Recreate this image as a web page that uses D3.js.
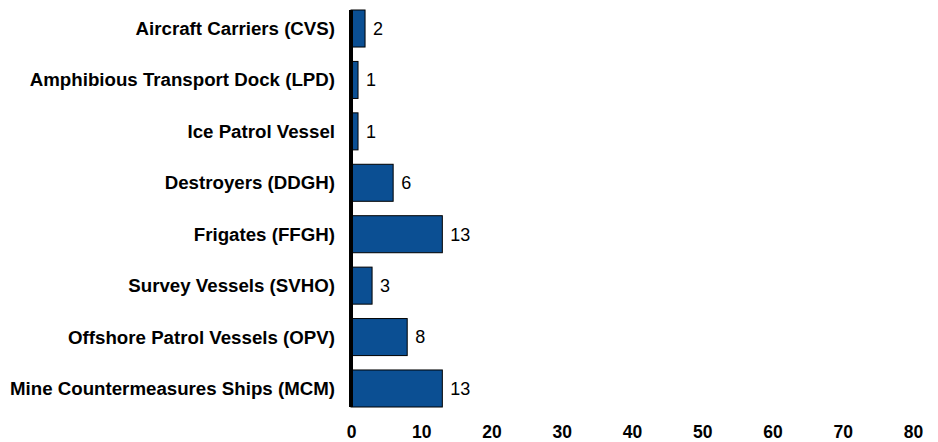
<!DOCTYPE html>
<html><head><meta charset="utf-8">
<script src="https://cdn.jsdelivr.net/npm/d3@7"></script>
<style>body{margin:0;background:#fff}svg{display:block}</style>
</head><body>
<svg id="c" width="938" height="442"></svg>
<script>
const categories = ["Aircraft Carriers (CVS)","Amphibious Transport Dock (LPD)","Ice Patrol Vessel","Destroyers (DDGH)","Frigates (FFGH)","Survey Vessels (SVHO)","Offshore Patrol Vessels (OPV)","Mine Countermeasures Ships (MCM)"];
const values = [2,1,1,6,13,3,8,13];
const xTicks = [0,10,20,30,40,50,60,70,80];

const svg = d3.select("#c");
const x = d3.scaleLinear().domain([0,80]).range([351,913]);
const y = d3.scaleBand().domain(categories).range([2.8,414.2]).paddingInner(0.28).paddingOuter(0.14);
const font = "Arial, 'Liberation Sans', sans-serif";

svg.selectAll("rect.bar").data(values).join("rect")
  .attr("x", x(0)).attr("y",(d,i)=>y(categories[i]))
  .attr("width", d=>x(d)-x(0)).attr("height", y.bandwidth())
  .attr("fill","#0b4f93").attr("stroke","#000").attr("stroke-width",1);

svg.selectAll("text.val").data(values).join("text")
  .attr("x", d=>x(d)+8).attr("y",(d,i)=>y(categories[i])+y.bandwidth()/2)
  .attr("dy","0.35em").attr("font-family",font).attr("font-size",18).attr("fill","#000")
  .text(d=>d);

svg.selectAll("text.cat").data(categories).join("text")
  .attr("x",335).attr("y",d=>y(d)+y.bandwidth()/2).attr("dy","0.35em")
  .attr("text-anchor","end").attr("font-family",font).attr("font-size",18.7).attr("font-weight","bold")
  .text(d=>d);

svg.append("line").attr("x1",x(0)).attr("x2",x(0))
  .attr("y1",y(categories[0])).attr("y2",y(categories[7])+y.bandwidth())
  .attr("stroke","#000").attr("stroke-width",4);

const xa = svg.append("g").attr("transform","translate(0,426)")
  .call(d3.axisBottom(x).tickValues(xTicks).tickSize(0).tickPadding(0));
xa.select(".domain").remove();
xa.selectAll("text").attr("dy",null).attr("y",12).attr("font-family",font).attr("font-size",17.5).attr("font-weight","bold").attr("fill","#000");
</script>
</body></html>
